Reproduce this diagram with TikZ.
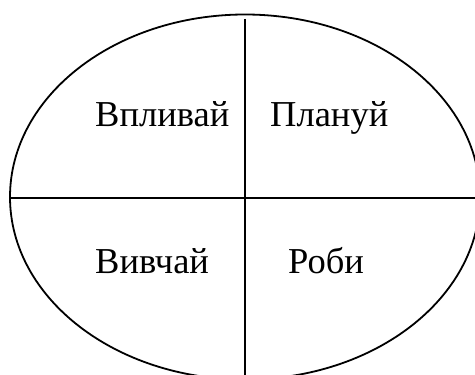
\documentclass[tikz,border=0pt]{standalone}
\usepackage{fontspec}
\setmainfont{Liberation Serif}
\begin{document}
\begin{tikzpicture}[x=1bp,y=1bp,
  shape line/.style={line width=1.8bp,black},
  label text/.style={inner sep=0pt,anchor=base west,font=\fontsize{36.5bp}{43bp}\selectfont}]
\useasboundingbox (0,0) rectangle (475,374);
\begin{scope}
\clip (0,0) rectangle (475,374);
\draw[shape line] (245,177) ellipse [x radius=235, y radius=182.5];
\coordinate (vtop) at (245,355);
\coordinate (vbot) at (245,-2);
\coordinate (hleft) at (10,176);
\coordinate (hright) at (477,176);
\draw[shape line] (vtop) -- (vbot);
\draw[shape line] (hleft) -- (hright);
\end{scope}
\node[label text] (influence) at (95,247.3) {Впливай};
\node[label text] (plan) at (270,247.3) {Плануй};
\node[label text] (study) at (95,100.7) {Вивчай};
\node[label text] (act) at (288,100.7) {Роби};
\end{tikzpicture}
\end{document}
